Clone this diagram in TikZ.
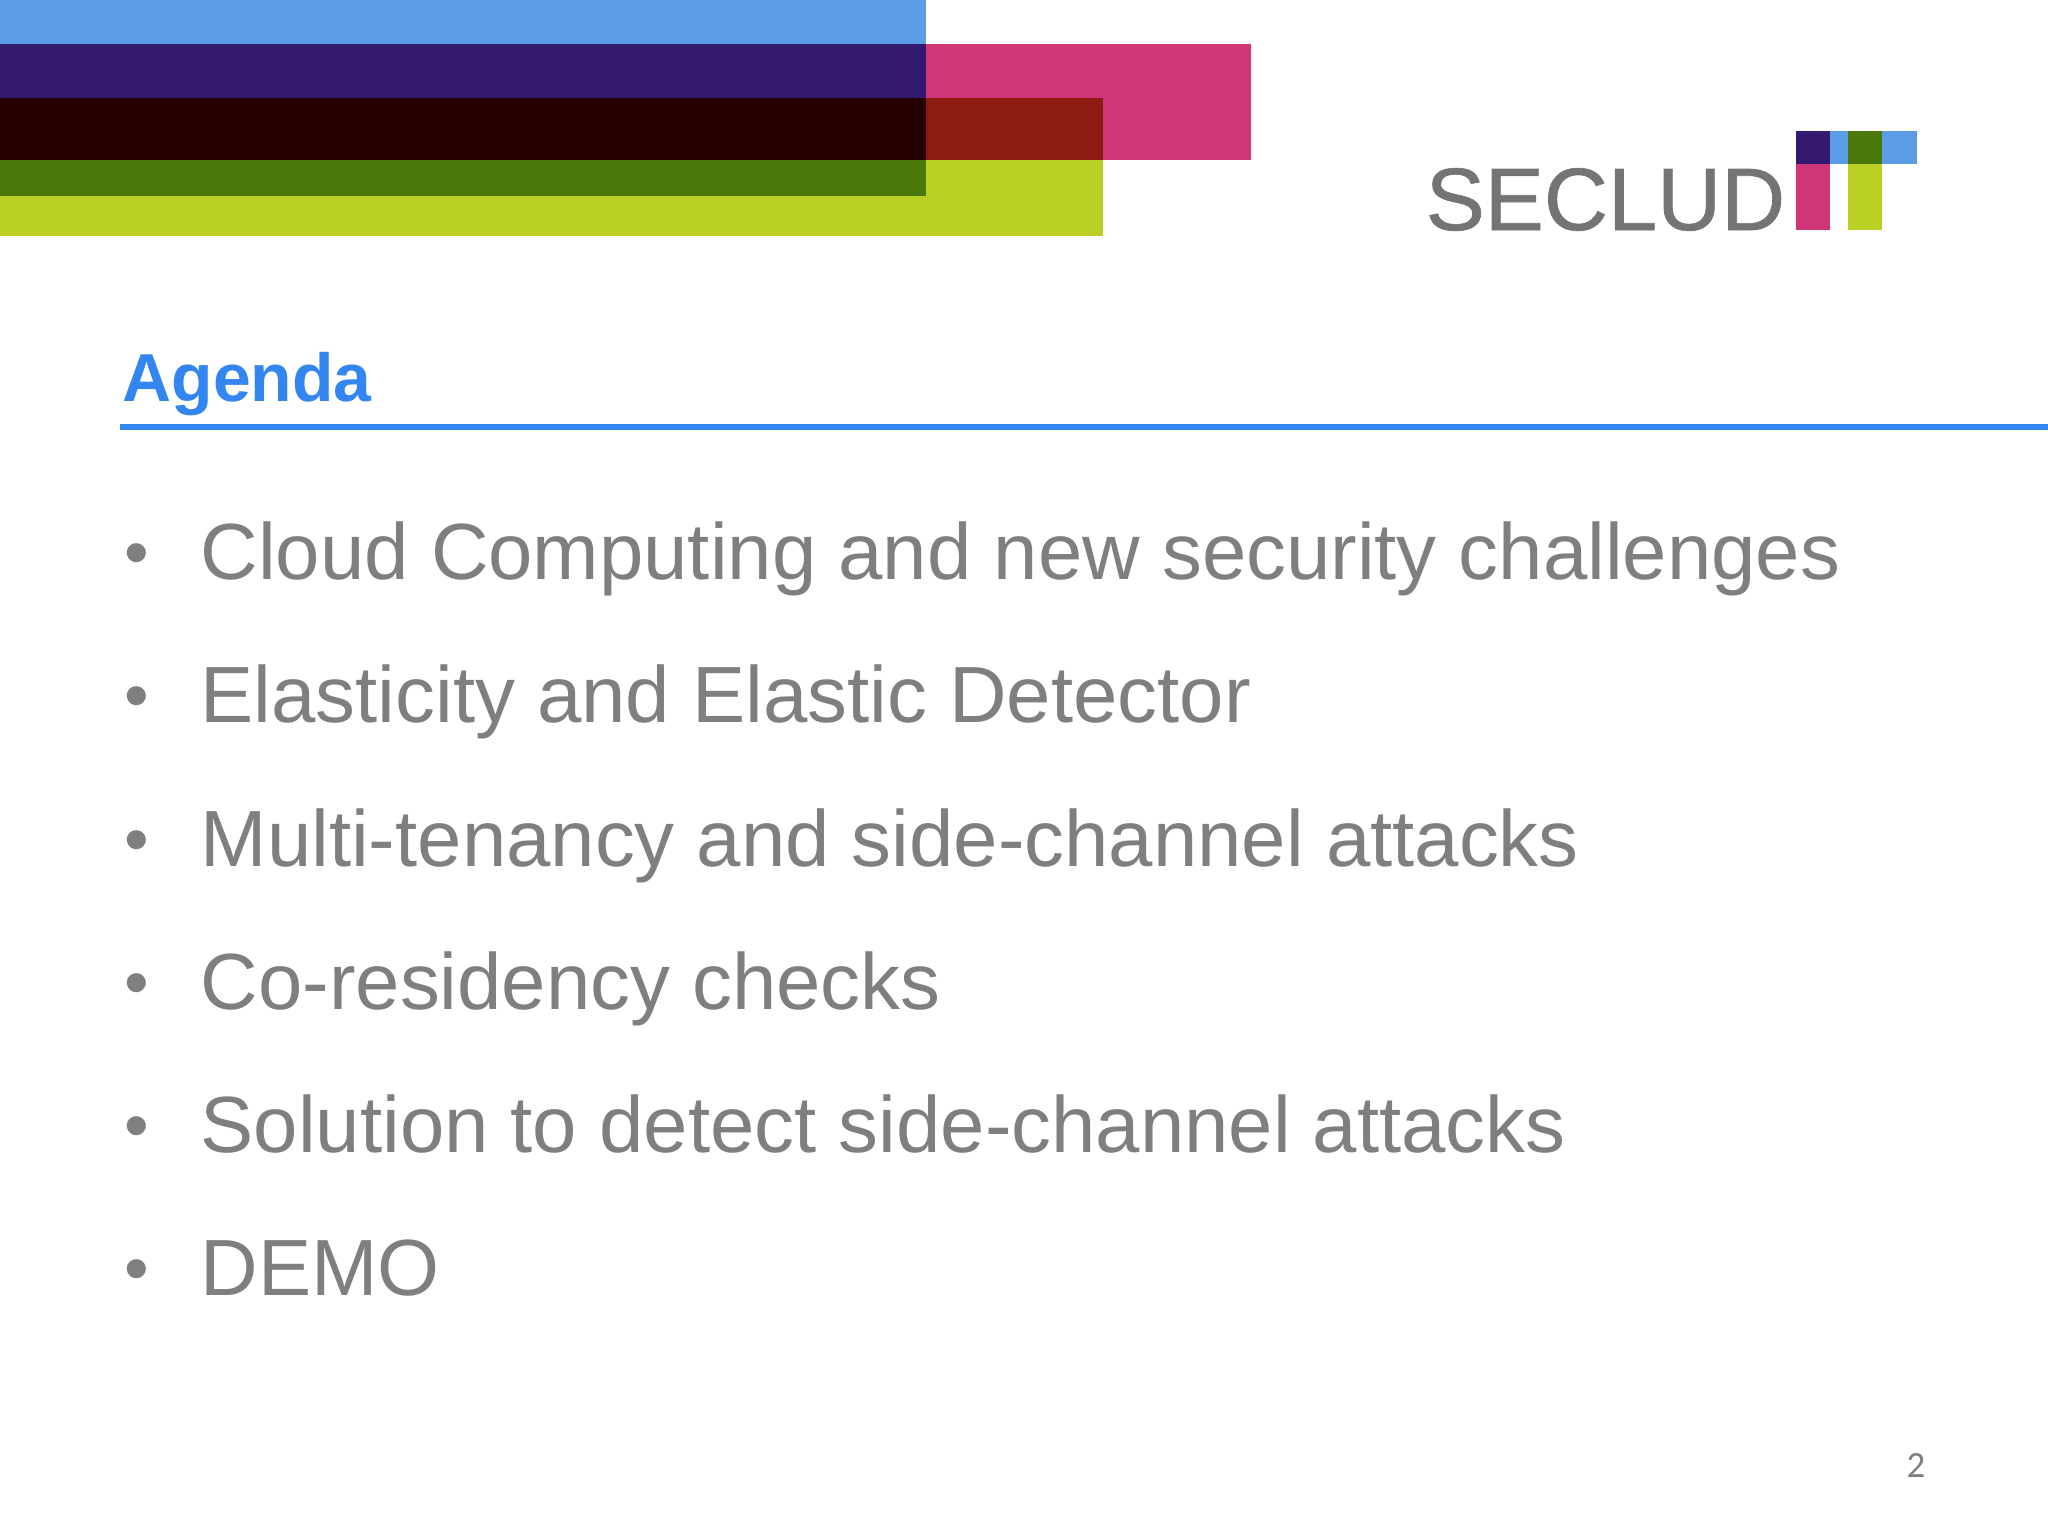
\documentclass[tikz,border=0pt]{standalone}
\usepackage{fontspec}
\setmainfont{Liberation Sans}
\newfontfamily\numfont{Carlito}
\newfontfamily\logofont[FakeBold=0.8]{Liberation Sans}
\usepackage{tikz}

\definecolor{skyblue}{HTML}{5A9DE6}
\definecolor{deeppurple}{HTML}{331A70}
\definecolor{rosepink}{HTML}{CF3577}
\definecolor{limegreen}{HTML}{BAD024}
\definecolor{darkred}{HTML}{8E1A14}
\definecolor{nearblack}{HTML}{260000}
\definecolor{mossgreen}{HTML}{4B780A}
\definecolor{titleblue}{HTML}{3385F0}
\definecolor{itemgray}{HTML}{7F7E81}
\definecolor{logogray}{HTML}{747474}

\tikzset{
    itemtext/.style={anchor=base west, inner sep=0pt, text=itemgray,
        font=\fontsize{22.67pt}{26pt}\selectfont},
    itemdot/.style={anchor=base, inner sep=0pt, text=itemgray,
        font=\fontsize{20pt}{24pt}\selectfont},
}

\begin{document}
\begin{tikzpicture}[x=0.01cm, y=-0.01cm]
    \useasboundingbox (0,0) rectangle (2048,1536);

    \fill[skyblue] (0,0) rectangle (926,44);
    \fill[deeppurple] (0,44) rectangle (926,98);
    \fill[rosepink] (926,44) rectangle (1251,160);
    \fill[nearblack] (0,98) rectangle (926,160);
    \fill[darkred] (926,98) rectangle (1103,160);
    \fill[mossgreen] (0,160) rectangle (926,196);
    \fill[limegreen] (926,160) rectangle (1103,236);
    \fill[limegreen] (0,196) rectangle (926,236);

    \fill[skyblue] (1796,131) rectangle (1917,164);
    \fill[deeppurple] (1796,131) rectangle (1830,164);
    \fill[mossgreen] (1848,131) rectangle (1882,164);
    \fill[rosepink] (1796,164) rectangle (1830,230);
    \fill[limegreen] (1848,164) rectangle (1882,230);
    \node[anchor=base west, inner sep=0pt, text=logogray,
        font=\fontsize{25.2pt}{30pt}\logofont] (logo) at (1425,230) {SECLUD};

    \node[anchor=base west, inner sep=0pt, text=titleblue,
        font=\fontsize{19.3pt}{23pt}\selectfont\bfseries] (agenda) at (122,401) {Agenda};
    \coordinate (ruleleft) at (120,427);
    \coordinate (ruleright) at (2048,427);
    \draw[titleblue, line width=0.06cm] (ruleleft) -- (ruleright);

    \node[itemdot] (dotone) at (137,576) {•};
    \node[itemtext] (itemone) at (200,579) {Cloud Computing and new security challenges};
    \node[itemdot] (dottwo) at (137,719) {•};
    \node[itemtext] (itemtwo) at (200,722) {Elasticity and Elastic Detector};
    \node[itemdot] (dotthree) at (137,863) {•};
    \node[itemtext] (itemthree) at (200,866) {Multi-tenancy and side-channel attacks};
    \node[itemdot] (dotfour) at (137,1006) {•};
    \node[itemtext] (itemfour) at (200,1009) {Co-residency checks};
    \node[itemdot] (dotfive) at (137,1149) {•};
    \node[itemtext] (itemfive) at (200,1152) {Solution to detect side-channel attacks};
    \node[itemdot] (dotsix) at (137,1292) {•};
    \node[itemtext] (itemsix) at (200,1295) {DEMO};

    \node[anchor=base, inner sep=0pt, text=itemgray,
        font=\fontsize{10.5pt}{12pt}\numfont] (pagenum) at (1916,1477) {2};
\end{tikzpicture}
\end{document}
